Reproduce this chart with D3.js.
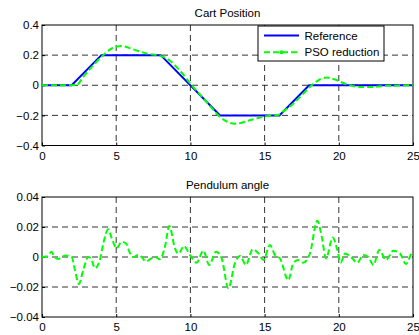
<!DOCTYPE html>
<html>
<head>
<meta charset="utf-8">
<script src="https://cdn.jsdelivr.net/npm/d3@7"></script>
<style>
  body { margin: 0; background: #fff; }
  text { font-family: "Liberation Sans", Arial, sans-serif; }
</style>
</head>
<body>
<script>
// Reference trajectory for the cart (time, position)
const refT = [0, 2, 4, 8, 12, 16, 18, 25];
const refPos = [0, 0, 0.2, 0.2, -0.2, -0.2, 0, 0];

// PSO reduction response of the cart (time, position)
const psoT = [0, 2.0, 2.34, 2.78, 3.46, 4.13, 4.7, 5.37, 6.15, 7.05, 7.95, 8.4, 9.27, 10.09, 11.1, 12.0, 13.0, 14.0, 15.1, 15.9, 16.04, 16.93, 17.6, 18.17, 18.62, 19.18, 19.74, 20.5, 21.43, 22.3, 23.2, 24.1, 25];
const psoPos = [0, 0, 0.002, 0.056, 0.133, 0.2, 0.244, 0.26, 0.238, 0.211, 0.195, 0.178, 0.1, 0, -0.111, -0.211, -0.256, -0.233, -0.205, -0.198, -0.189, -0.122, -0.056, 0, 0.033, 0.051, 0.038, 0.007, -0.011, -0.011, -0.004, -0.002, 0];

// Pendulum angle under PSO reduction (time, angle)
const angT = [0, 0.35, 0.65, 0.8, 1.1, 1.33, 1.66, 2.0, 2.22, 2.49, 2.78, 3.12, 3.3, 3.57, 3.9, 4.13, 4.47, 4.7, 5.03, 5.37, 5.66, 5.93, 6.15, 6.49, 6.72, 7.0, 7.28, 7.61, 7.95, 8.29, 8.58, 8.96, 9.19, 9.57, 9.97, 10.42, 10.87, 11.27, 11.73, 12.11, 12.56, 13.0, 13.34, 13.74, 14.2, 14.58, 14.92, 15.36, 15.7, 16.04, 16.6, 16.93, 17.27, 17.6, 18.06, 18.55, 18.85, 19.14, 19.59, 19.9, 20.13, 20.42, 20.8, 21.25, 21.65, 21.99, 22.33, 22.73, 23.18, 23.67, 24.12, 24.53, 24.91, 25];
const angVal = [0, 0.0005, 0.0035, 0.0007, -0.0013, 0, 0.001, 0, -0.0087, -0.018, -0.0087, 0, -0.001, -0.0075, -0.002, 0.009, 0.0185, 0.0125, 0.0058, 0.0102, 0.009, 0.0025, 0, 0.0013, 0, -0.003, -0.0015, 0, -0.0015, 0.007, 0.0207, 0.0058, 0.0022, 0.0073, 0.0013, -0.0038, 0.0042, -0.0053, 0.0035, -0.001, -0.0209, -0.0042, 0.0007, -0.0053, 0.0051, 0.0025, -0.002, 0.008, 0.0013, -0.001, -0.0155, -0.0042, -0.002, -0.0038, 0.0025, 0.0242, 0.0136, -0.001, 0.013, 0.0047, -0.0038, 0.0024, 0.0002, -0.0038, 0.0013, 0, -0.0053, 0.0047, -0.002, 0.0042, 0.0024, -0.0047, 0.0024, 0.003];

const xTicks = [0, 5, 10, 15, 20, 25];
const posTicks = [-0.4, -0.2, 0, 0.2, 0.4];
const angTicks = [-0.04, -0.02, 0, 0.02, 0.04];
const legendLabels = ["Reference", "PSO reduction"];

const W = 419, H = 335;
const svg = d3.select("body").append("svg")
    .attr("width", W)
    .attr("height", H);

const left = 42, right = 413;
const fontSize = "11.5px";

function drawAxes(top, bottom, yDomain, yTicks, yFmt, title) {
  const x = d3.scaleLinear().domain([0, 25]).range([left, right]);
  const y = d3.scaleLinear().domain(yDomain).range([bottom, top]);
  const g = svg.append("g");

  // dashed grid
  g.selectAll(".gx").data(xTicks.slice(1, -1)).enter().append("line")
    .attr("x1", d => x(d)).attr("x2", d => x(d))
    .attr("y1", top).attr("y2", bottom)
    .attr("stroke", "#000").attr("stroke-width", 0.8)
    .attr("stroke-dasharray", "6,4");
  g.selectAll(".gy").data(yTicks.slice(1, -1)).enter().append("line")
    .attr("x1", left).attr("x2", right)
    .attr("y1", d => y(d)).attr("y2", d => y(d))
    .attr("stroke", "#000").attr("stroke-width", 0.8)
    .attr("stroke-dasharray", "6,4");

  // axes, ticks pointing inward
  const xa = g.append("g").attr("transform", `translate(0,${bottom})`)
    .call(d3.axisBottom(x).tickValues(xTicks).tickSize(-3).tickPadding(6).tickFormat(d3.format("d")));
  const ya = g.append("g").attr("transform", `translate(${left},0)`)
    .call(d3.axisLeft(y).tickValues(yTicks).tickSize(-3).tickPadding(3).tickFormat(yFmt));
  [xa, ya].forEach(a => {
    a.select(".domain").remove();
    a.selectAll("line").attr("stroke", "#000");
    a.selectAll("text").attr("fill", "#000").style("font-size", fontSize)
      .style("font-family", "'Liberation Sans', Arial, sans-serif");
  });

  g.append("rect")
    .attr("x", left).attr("y", top)
    .attr("width", right - left).attr("height", bottom - top)
    .attr("fill", "none").attr("stroke", "#000").attr("stroke-width", 1);

  g.append("text")
    .attr("x", (left + right) / 2).attr("y", top - 8.5)
    .attr("text-anchor", "middle")
    .style("font-size", fontSize)
    .text(title);

  return { x, y, g };
}

const fmtPos = d => d === 0 ? "0" : d3.format(".1f")(d);
const fmtAng = d => d === 0 ? "0" : d3.format(".2f")(d);

// --- Cart position ---
const p1 = drawAxes(25, 145.5, [-0.4, 0.4], posTicks, fmtPos, "Cart Position");

const refLine = d3.line()
  .x((d, i) => p1.x(refT[i]))
  .y(d => p1.y(d));
svg.append("path")
  .attr("d", refLine(refPos))
  .attr("fill", "none").attr("stroke", "#0000ff").attr("stroke-width", 2);

const psoLine = d3.line()
  .x((d, i) => p1.x(psoT[i]))
  .y(d => p1.y(d))
  .curve(d3.curveMonotoneX);
svg.append("path")
  .attr("d", psoLine(psoPos))
  .attr("fill", "none").attr("stroke", "#00ff00").attr("stroke-width", 2)
  .attr("stroke-dasharray", "6,3");

// legend
const lg = svg.append("g");
lg.append("rect")
  .attr("x", 258).attr("y", 26).attr("width", 126).attr("height", 35)
  .attr("fill", "#fff").attr("stroke", "#000").attr("stroke-width", 1);
lg.append("line")
  .attr("x1", 264).attr("x2", 299).attr("y1", 35.5).attr("y2", 35.5)
  .attr("stroke", "#0000ff").attr("stroke-width", 2);
lg.append("line")
  .attr("x1", 264).attr("x2", 299).attr("y1", 52.3).attr("y2", 52.3)
  .attr("stroke", "#00ff00").attr("stroke-width", 2)
  .attr("stroke-dasharray", "6,3");
lg.append("circle")
  .attr("cx", 281.5).attr("cy", 52.3).attr("r", 2)
  .attr("fill", "#00ff00");
lg.selectAll(".lt").data(legendLabels).enter().append("text")
  .attr("x", 304.5)
  .attr("y", (d, i) => i === 0 ? 39.8 : 56.3)
  .style("font-size", fontSize)
  .text(d => d);

// --- Pendulum angle ---
const p2 = drawAxes(197, 317, [-0.04, 0.04], angTicks, fmtAng, "Pendulum angle");

const angLine = d3.line()
  .x((d, i) => p2.x(angT[i]))
  .y(d => p2.y(d))
  .curve(d3.curveMonotoneX);
svg.append("path")
  .attr("d", angLine(angVal))
  .attr("fill", "none").attr("stroke", "#00ff00").attr("stroke-width", 2)
  .attr("stroke-dasharray", "6,3");
</script>
</body>
</html>
